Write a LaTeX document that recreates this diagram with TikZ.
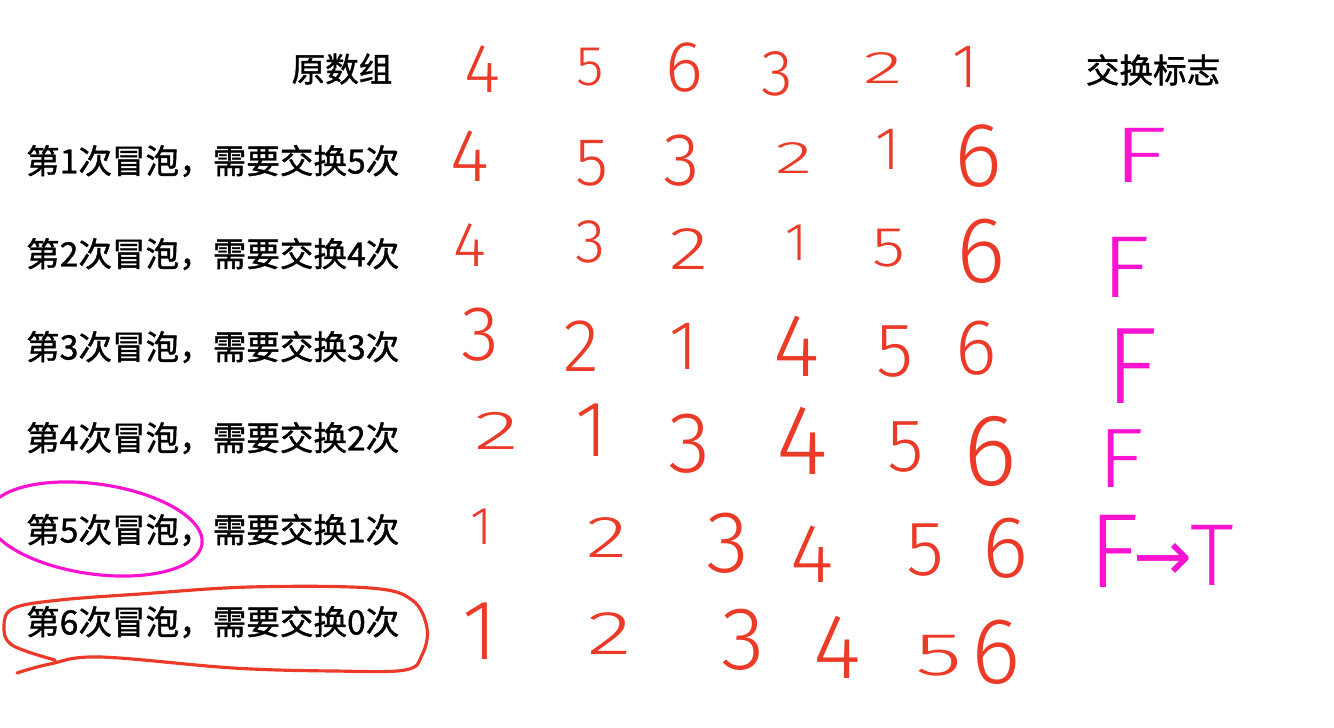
\documentclass[tikz,border=0pt]{standalone}
\usepackage{fontspec}
\usepackage{graphicx}
\newfontfamily\cjk{Noto Sans CJK SC}[FakeBold=1.2]
\newfontfamily\hand{Fira Sans Light}
\newfontfamily\sym{DejaVu Sans}
\definecolor{pen}{RGB}{235,58,40}
\definecolor{mag}{RGB}{250,20,210}
\newcommand\hsz[1]{\fontsize{#1}{#1}\selectfont}
\newcommand\wide[2]{\scalebox{#1}[1]{#2}}
\begin{document}
\begin{tikzpicture}[x=0.01cm,y=-0.01cm,
  dg/.style={text=pen,inner sep=0pt,font=\hand},
  flg/.style={text=mag,inner sep=0pt,font=\hand},
  lab/.style={inner sep=0pt,font=\cjk\hsz{9.55}},
  ring/.style={line width=0.9pt,line cap=round,line join=round}]
\useasboundingbox (0,0) rectangle (1334,728);
\path[fill=white] (0,0) rectangle (1334,728);
% headers
\node[lab] (hdr) at (342,69) {原数组};
\node[lab] (flaghdr) at (1153,70) {交换标志};
% row labels
\node[lab,anchor=east] (l1) at (400,161) {第1次冒泡，需要交换5次};
\node[lab,anchor=east] (l2) at (400,254) {第2次冒泡，需要交换4次};
\node[lab,anchor=east] (l3) at (400,347) {第3次冒泡，需要交换3次};
\node[lab,anchor=east] (l4) at (400,438) {第4次冒泡，需要交换2次};
\node[lab,anchor=east] (l5) at (400,530) {第5次冒泡，需要交换1次};
\node[lab,anchor=east] (l6) at (400,622) {第6次冒泡，需要交换0次};
% row 0
\node[dg] (a1) at (482,69) {\hsz{19.7}4};
\node[dg] (a2) at (590,67) {\hsz{16}5};
\node[dg] (a3) at (684,68) {\hsz{20.5}6};
\node[dg] (a4) at (777,74) {\hsz{18.5}3};
\node[dg] (a5) at (883,68) {\hsz{13}\wide{1.8}{2}};
\node[dg] (a6) at (965,67) {\hsz{17.6}1};
% row 1
\node[dg] (b1) at (470,156) {\hsz{21.3}4};
\node[dg] (b2) at (592,163) {\hsz{19.3}5};
\node[dg] (b3) at (682,161) {\hsz{21.3}3};
\node[dg] (b4) at (794,158) {\hsz{13}\wide{1.7}{2}};
\node[dg] (b5) at (888,149) {\hsz{17.2}1};
\node[dg] (b6) at (978,156) {\hsz{26}6};
% row 2
\node[dg] (c1) at (470,245) {\hsz{18}4};
\node[dg] (c2) at (591,242) {\hsz{17.6}3};
\node[dg] (c3) at (689,249) {\hsz{17.2}\wide{1.35}{2}};
\node[dg] (c4) at (797,243) {\hsz{15.2}1};
\node[dg] (c5) at (889,248) {\hsz{16}\wide{1.2}{5}};
\node[dg] (c6) at (981,251) {\hsz{26.7}6};
% row 3
\node[dg] (d1) at (480,335) {\hsz{22.1}3};
\node[dg] (d2) at (581,346) {\hsz{21.3}2};
\node[dg] (d3) at (684,346) {\hsz{19.7}1};
\node[dg] (d4) at (797,346) {\hsz{25.4}4};
\node[dg] (d5) at (895,352) {\hsz{21.7}5};
\node[dg] (d6) at (976,348) {\hsz{22.5}6};
% row 4
\node[dg] (e1) at (497,431) {\hsz{15.6}\wide{1.7}{2}};
\node[dg] (e2) at (592,430) {\hsz{22.5}1};
\node[dg] (e3) at (690,444) {\hsz{24.6}3};
\node[dg] (e4) at (802,441) {\hsz{28.3}4};
\node[dg] (e5) at (906,447) {\hsz{21.3}5};
\node[dg] (e6) at (990,451) {\hsz{29.1}6};
% row 5
\node[dg] (f1) at (482,527) {\hsz{15.2}1};
\node[dg] (f2) at (607,538) {\hsz{16.8}\wide{1.45}{2}};
\node[dg] (f3) at (728,543) {\hsz{25}3};
\node[dg] (f4) at (812,554) {\hsz{23.8}4};
\node[dg] (f5) at (925,550) {\hsz{22.1}5};
\node[dg] (f6) at (1006,548) {\hsz{25}6};
% row 6
\node[dg] (g1) at (480,631) {\hsz{24.2}1};
\node[dg] (g2) at (610,634) {\hsz{17.6}\wide{1.5}{2}};
\node[dg] (g3) at (743,640) {\hsz{25.4}3};
\node[dg] (g4) at (837,647) {\hsz{26.2}4};
\node[dg] (g5) at (939,656) {\hsz{17.2}\wide{1.6}{5}};
\node[dg] (g6) at (996,652) {\hsz{26.7}6};
% flags
\node[flg] (fl1) at (1140,155) {\hsz{22.5}\wide{1.45}{F}};
\node[flg] (fl2) at (1126,267) {\hsz{25}\wide{1.15}{F}};
\node[flg] (fl3) at (1132,366) {\hsz{31}F};
\node[flg] (fl4) at (1121,459) {\hsz{24}\wide{1.15}{F}};
\node[flg] (fl5) at (1114,551) {\hsz{30}F};
\node[flg,font=\sym] (fl5a) at (1163,562) {\hsz{20}→};
\node[flg] (fl5b) at (1212,555) {\hsz{25}T};
% circled rows
\draw[ring,draw=mag,rotate around={-8:(95,529)}] (95,529) ellipse [x radius=1.08cm, y radius=0.45cm];
\draw[ring,draw=pen] plot[smooth,tension=0.6] coordinates {(55,660) (12,645) (4,625) (14,608) (60,600) (140,594) (250,587) (370,588) (412,600) (427,628) (422,655) (405,670) (333,671) (233,668) (100,657) (50,664) (17,673)};
\end{tikzpicture}
\end{document}
